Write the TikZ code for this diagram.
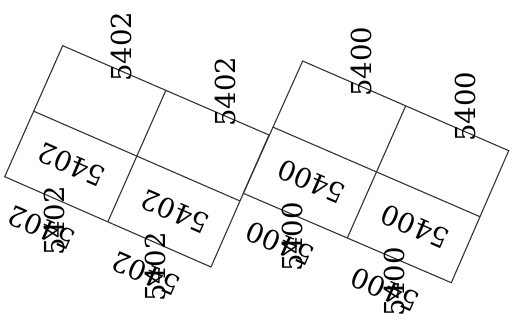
\documentclass[tikz,border=0pt]{standalone}
\usepackage{fontspec}
\setmainfont{DejaVu Serif}
\usetikzlibrary{calc}
\begin{document}
\begin{tikzpicture}[x=1pt,y=-1pt,
  gridline/.style={draw=black!80,line width=1.1pt},
  lbl/.style={inner sep=0pt,font=\fontsize{27.5}{28}\selectfont},
  upright/.style={lbl,rotate=90},
  flipped/.style={lbl,rotate=156.6}]
\useasboundingbox (0,0) rectangle (515,329);

% left block: corners and mid points
\coordinate (la) at (62.7,45.7);
\coordinate (lb) at (269,135);
\coordinate (lc) at (211,267);
\coordinate (ld) at (4.7,176.7);
\draw[gridline] (la) -- (lb) -- (lc) -- (ld) -- cycle;
\draw[gridline] ($(la)!0.5!(lb)$) -- ($(ld)!0.5!(lc)$);
\draw[gridline] ($(la)!0.5!(ld)$) -- ($(lb)!0.5!(lc)$);

% right block
\coordinate (ra) at (302.7,61);
\coordinate (rb) at (508.7,150.7);
\coordinate (rc) at (451.3,282.7);
\coordinate (rd) at (243.3,193.3);
\draw[gridline] (ra) -- (rb) -- (rc) -- (rd) -- cycle;
\draw[gridline] ($(ra)!0.5!(rb)$) -- ($(rd)!0.5!(rc)$);
\draw[gridline] ($(ra)!0.5!(rd)$) -- ($(rb)!0.5!(rc)$);

% labels of the left block
\node[upright] (lv1) at (121.7,46.7) {5402};
\node[upright] (lv2) at (225,91.7) {5402};
\node[flipped] (lu1) at (71.7,165) {5402};
\node[flipped] (lu2) at (175,211.7) {5402};
\node[flipped] (lu3) at (41.7,228) {5402};
\node[upright] (lv3) at (54,221) {5402};
\node[flipped] (lu4) at (146,274) {5402};
\node[upright] (lv4) at (155,267) {5402};

% labels of the right block
\node[upright] (rv1) at (361.7,61.7) {5400};
\node[upright] (rv2) at (465,106.7) {5400};
\node[flipped] (ru1) at (311.7,181.7) {5400};
\node[flipped] (ru2) at (415,226.7) {5400};
\node[flipped] (ru3) at (280,244) {5400};
\node[upright] (rv3) at (292,237) {5400};
\node[flipped] (ru4) at (385,290) {5400};
\node[upright] (rv4) at (394,282) {5400};
\end{tikzpicture}
\end{document}
